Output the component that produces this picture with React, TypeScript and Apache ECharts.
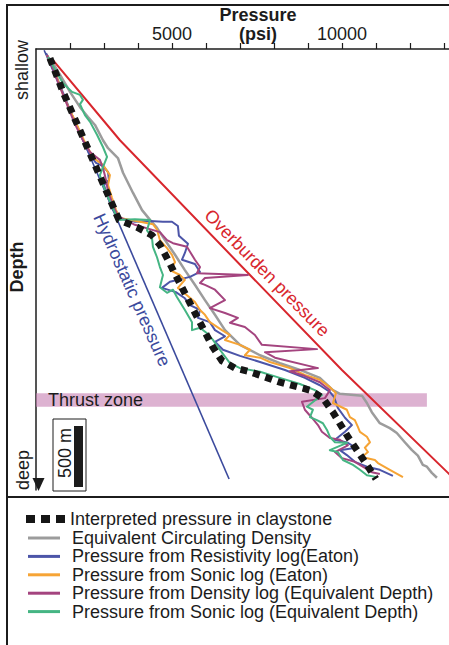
import React, { useEffect, useRef } from "react";
import * as echarts from "echarts";

// Axes
const pressureTicks = [2000, 3000, 4000, 5000, 6000, 7000, 8000, 9000, 10000, 11000, 12000, 13000];
const pressureLabels = [5000, 10000];
const thrustZone = [2810, 2920]; // depth (m)
const thrustZoneEnd = 12500; // psi

// [pressure psi, depth m]
const overburden = [[1500, 90], [3470, 745], [7295, 1845], [10000, 2620], [13120, 3460], [13470, 3560]];
const hydrostatic = [[1240, 10], [6680, 3510]];

const ecd = [
  [1410, 75], [1705, 210], [2000, 350], [2295, 475], [2530, 555], [2735, 620], [2970, 745], [3120, 810],
  [3265, 850], [3410, 890], [3560, 1010], [3855, 1175], [4120, 1315], [4355, 1395], [4560, 1460], [4795, 1560],
  [5090, 1680], [5380, 1805], [5675, 1925], [5970, 2050], [6265, 2170], [6560, 2295], [7000, 2415], [7590, 2500],
  [8175, 2565], [8765, 2620], [9350, 2685], [9735, 2785], [9940, 2815], [10590, 2830], [10735, 2890], [10880, 2965],
  [11115, 3055], [11410, 3095], [11615, 3135], [11850, 3210], [12060, 3275], [12235, 3320], [12380, 3395],
  [12500, 3410], [12645, 3460], [12795, 3500],
];

const resistivity = [
  [1295, 35], [1410, 90], [1560, 190], [1705, 295], [1880, 415], [2060, 540], [2235, 645], [2410, 760],
  [2590, 865], [2765, 930], [2970, 955], [3120, 1005], [3145, 1070], [3000, 1110], [3090, 1190], [3235, 1300],
  [3410, 1380], [3910, 1410], [4355, 1405], [4735, 1410], [5000, 1410], [5175, 1445], [5205, 1525], [5470, 1590],
  [5380, 1665], [5295, 1720], [5675, 1755], [5825, 1820], [5530, 1860], [4940, 1900], [4705, 1950], [5115, 1985],
  [5380, 2035], [5530, 2090], [5825, 2130], [5765, 2195], [6115, 2230], [6265, 2295], [6560, 2345], [6265, 2390],
  [6500, 2455], [7000, 2505], [7590, 2555], [8325, 2620], [8910, 2685], [9350, 2745], [9645, 2800], [9765, 2840],
  [9880, 2930], [10090, 3010], [10295, 3070], [10090, 3125], [9795, 3190], [10175, 3215], [10410, 3255],
  [9940, 3275], [10145, 3315], [10380, 3370], [10735, 3410], [11115, 3435], [11500, 3485],
];

const sonicEaton = [
  [1325, 50], [1470, 130], [1645, 255], [1795, 375], [2000, 500], [2205, 620], [2410, 745], [2590, 840],
  [2765, 905], [2970, 945], [3175, 1030], [3120, 1110], [3235, 1215], [3355, 1315], [3470, 1380], [4060, 1410],
  [4440, 1430], [4560, 1475], [4645, 1560], [4855, 1625], [5000, 1680], [5090, 1740], [4940, 1805], [5235, 1845],
  [5380, 1885], [5175, 1950], [5440, 2010], [5675, 2065], [5825, 2130], [5970, 2170], [6115, 2230], [6470, 2295],
  [6705, 2335], [6560, 2375], [7000, 2415], [7295, 2455], [7145, 2500], [7590, 2520], [7880, 2555], [8470, 2605],
  [8910, 2660], [9350, 2700], [9645, 2760], [9825, 2810], [9735, 2890], [10145, 2945], [10235, 3005], [10380, 3030],
  [10470, 3085], [10530, 3125], [10735, 3165], [10825, 3210], [10675, 3255], [10765, 3290], [10590, 3330],
  [10970, 3355], [11060, 3380], [11410, 3435], [11795, 3495],
];

const density = [
  [1325, 50], [1470, 140], [1645, 270], [1825, 390], [2000, 515], [2175, 630], [2380, 745], [2590, 840],
  [2765, 880], [2880, 905], [2970, 970], [3060, 1070], [3120, 1165], [3265, 1275], [3410, 1365], [3910, 1435],
  [4645, 1495], [4855, 1560], [5030, 1585], [5440, 1615], [5530, 1655], [5675, 1720], [5825, 1780], [5735, 1830],
  [7235, 1845], [5970, 1870], [5825, 1910], [5970, 1925], [6265, 1965], [6560, 2050], [6115, 2115], [6560, 2155],
  [6940, 2195], [6705, 2235], [7145, 2270], [7440, 2335], [7645, 2415], [9265, 2450], [7735, 2475], [8030, 2520],
  [9295, 2605], [8470, 2630], [8910, 2670], [9350, 2720], [9645, 2785], [9500, 2850], [8825, 2880], [8910, 2945],
  [9115, 3010], [9295, 3070], [9410, 3125], [9645, 3175], [9940, 3190], [10175, 3235], [9795, 3290], [10000, 3340],
  [10380, 3370], [10675, 3420], [10880, 3455], [11115, 3470],
];

const sonicEqDepth = [
  [1355, 65], [1560, 170], [1795, 280], [2060, 350], [2295, 375], [2380, 415], [2295, 450], [2440, 540],
  [2590, 595], [2795, 700], [2970, 800], [3090, 880], [2970, 965], [2880, 1030], [2970, 1110], [3120, 1210],
  [3265, 1300], [3410, 1395], [3910, 1390], [4355, 1395], [4265, 1480], [4410, 1535], [4440, 1615], [4560, 1700],
  [4645, 1780], [4735, 1845], [4645, 1945], [4855, 1990], [5030, 1965], [5145, 2025], [5380, 2130], [5590, 2230],
  [5590, 2295], [5825, 2275], [6030, 2320], [6205, 2375], [6410, 2455], [6705, 2565], [7000, 2605], [7590, 2635],
  [8175, 2685], [8765, 2735], [9205, 2785], [9410, 2825], [8970, 2920], [9145, 2945], [9060, 3005], [9265, 3030],
  [9440, 3055], [9560, 3110], [9645, 3165], [9795, 3210], [10145, 3215], [9645, 3275], [9880, 3290], [10030, 3355],
  [10325, 3395], [10530, 3435], [10735, 3480], [11030, 3495],
];

const interpreted = [
  [1410, 75], [1795, 350], [2530, 815], [3440, 1395], [3970, 1455], [4410, 1520], [4650, 1600], [4850, 1705],
  [5530, 2075], [6205, 2435], [6470, 2545], [6855, 2605], [7295, 2635], [8175, 2720], [9060, 2785], [9440, 2850],
  [9735, 2965], [10175, 3165], [10735, 3395], [11000, 3510],
];

const FONT = "'Liberation Sans', Arial, sans-serif";
const INK = "#1c1c1c";

function lineSeries(name: string, data: number[][], color: string, width: number, extra: any = {}) {
  return {
    name,
    type: "line",
    data,
    symbol: "none",
    silent: true,
    color,
    itemStyle: { color },
    lineStyle: { color, width, join: "round" },
    ...extra,
  };
}

const option: any = {
  animation: false,
  backgroundColor: "#ffffff",
  textStyle: { fontFamily: FONT },
  grid: { left: 36, right: 0, top: 49, bottom: 155 },
  xAxis: {
    type: "value",
    position: "top",
    min: 1000,
    max: 13150,
    interval: 1000,
    axisLine: { show: true, onZero: false, lineStyle: { color: INK, width: 1.5 } },
    axisTick: { show: true, customValues: pressureTicks, length: 6, inside: false, lineStyle: { color: INK, width: 1.2 } },
    axisLabel: {
      customValues: pressureLabels,
      formatter: (v: number) => (pressureLabels.indexOf(v) >= 0 ? String(v) : ""),
      fontSize: 18,
      color: INK,
      margin: 6,
      fontFamily: FONT,
    },
    splitLine: { show: false },
  },
  yAxis: {
    type: "value",
    inverse: true,
    min: 0,
    max: 3600,
    axisLine: { show: true, onZero: false, lineStyle: { color: INK, width: 1.5 } },
    axisTick: { show: false },
    axisLabel: { show: false },
    splitLine: { show: false },
  },
  legend: [
    {
      data: [{ name: "Interpreted pressure in claystone", icon: "path://M0,0h9v8h-9z M15,0h9v8h-9z M30,0h9v8h-9z" }],
      left: 26,
      top: 510,
      padding: 0,
      orient: "vertical",
      itemWidth: 39,
      itemHeight: 8,
      selectedMode: false,
      textStyle: { fontSize: 18, color: INK, fontFamily: FONT, lineHeight: 18 },
    },
    {
      data: [
        "Equivalent Circulating Density",
        "Pressure from Resistivity log(Eaton)",
        "Pressure from Sonic log (Eaton)",
        "Pressure from Density log (Equivalent Depth)",
        "Pressure from Sonic log (Equivalent Depth)",
      ],
      icon: "rect",
      left: 28,
      top: 529,
      padding: 0,
      orient: "vertical",
      itemWidth: 32,
      itemHeight: 3,
      itemGap: 0.4,
      selectedMode: false,
      textStyle: { fontSize: 18, color: INK, fontFamily: FONT, padding: [0, 0, 0, 7], lineHeight: 18 },
    },
  ],
  series: [
    lineSeries("Overburden", overburden, "#d8262d", 2),
    lineSeries("Hydrostatic", hydrostatic, "#3b4a9d", 1.6),
    lineSeries("Equivalent Circulating Density", ecd, "#9c9c9c", 2.5),
    lineSeries("Pressure from Resistivity log(Eaton)", resistivity, "#4c55a8", 2),
    lineSeries("Pressure from Sonic log (Eaton)", sonicEaton, "#f6a435", 2),
    lineSeries("Pressure from Density log (Equivalent Depth)", density, "#a4447f", 2),
    lineSeries("Pressure from Sonic log (Equivalent Depth)", sonicEqDepth, "#45b583", 2, {
      markArea: {
        silent: true,
        itemStyle: { color: "rgba(200,130,180,0.62)" },
        label: {
          show: true,
          position: "insideLeft",
          distance: 12,
          color: INK,
          fontSize: 18,
          fontFamily: FONT,
        },
        data: [[
          { name: "Thrust zone", xAxis: 1000, yAxis: thrustZone[0] },
          { xAxis: thrustZoneEnd, yAxis: thrustZone[1] },
        ]],
      },
    }),
    lineSeries("Interpreted pressure in claystone", interpreted, "#161616", 7, {
      lineStyle: { color: "#161616", width: 7, type: [7, 6], cap: "butt", join: "miter" },
      z: 5,
    }),
  ],
  graphic: [
    { type: "rect", shape: { x: 7, y: 5, width: 470, height: 492 }, style: { fill: "none", stroke: INK, lineWidth: 2 }, silent: true },
    { type: "rect", shape: { x: 7, y: 497, width: 470, height: 170 }, style: { fill: "none", stroke: INK, lineWidth: 2 }, silent: true },
    { type: "polygon", shape: { points: [[32.5, 478], [44.5, 478], [38.5, 491]] }, style: { fill: INK }, silent: true },
    { type: "text", x: 258, y: 15, style: { text: "Pressure", font: `bold 18px ${FONT}`, fill: INK, align: "center", verticalAlign: "middle" } },
    { type: "text", x: 258, y: 34, style: { text: "(psi)", font: `bold 18px ${FONT}`, fill: INK, align: "center", verticalAlign: "middle" } },
    { type: "text", x: 22, y: 70, rotation: Math.PI / 2, style: { text: "shallow", font: `18px ${FONT}`, fill: INK, align: "center", verticalAlign: "middle" } },
    { type: "text", x: 17, y: 267, rotation: Math.PI / 2, style: { text: "Depth", font: `bold 18px ${FONT}`, fill: INK, align: "center", verticalAlign: "middle" } },
    { type: "text", x: 23, y: 470, rotation: Math.PI / 2, style: { text: "deep", font: `18px ${FONT}`, fill: INK, align: "center", verticalAlign: "middle" } },
    { type: "rect", shape: { x: 53, y: 419, width: 33, height: 72 }, style: { fill: "#fff", stroke: INK, lineWidth: 1 }, silent: true },
    { type: "rect", shape: { x: 74, y: 426, width: 9, height: 61 }, style: { fill: INK }, silent: true },
    { type: "text", x: 65, y: 453, rotation: Math.PI / 2, style: { text: "500 m", font: `18px ${FONT}`, fill: INK, align: "center", verticalAlign: "middle" } },
    { type: "text", x: 132, y: 290, rotation: (-66 * Math.PI) / 180, style: { text: "Hydrostatic pressure", font: `18px ${FONT}`, fill: "#3b4a9d", align: "center", verticalAlign: "middle" } },
    { type: "text", x: 267, y: 273, rotation: (-45.5 * Math.PI) / 180, style: { text: "Overburden pressure", font: `18px ${FONT}`, fill: "#d8262d", align: "center", verticalAlign: "middle" } },
  ],
};

export default function App() {
  const ref = useRef<HTMLDivElement>(null);
  useEffect(() => {
    document.body.style.margin = "0";
    const chart = echarts.init(ref.current!, null, { renderer: "svg" });
    chart.setOption(option);
    return () => chart.dispose();
  }, []);
  return <div ref={ref} style={{ width: 449, height: 645 }} />;
}
